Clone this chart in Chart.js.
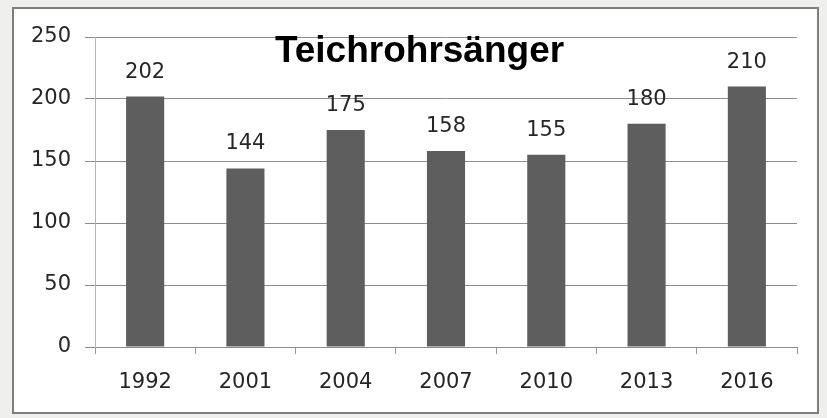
<!DOCTYPE html>
<html>
<head>
<meta charset="utf-8">
<script src="https://cdn.jsdelivr.net/npm/chart.js@4"></script>
<style>
    html, body { margin: 0; padding: 0; }
    body { width: 827px; height: 418px; background: #efefee; position: relative; overflow: hidden; }
    #box {
        position: absolute; left: 12px; top: 7px;
        width: 803px; height: 403px;
        border: 2px solid #7f7f7f; background: #fff;
    }
    #chart { display: block; }
</style>
</head>
<body>
<div id="box"><canvas id="chart" width="803" height="403"></canvas></div>
<script>
const chartTitle = 'Teichrohrsänger';
const years = ['1992', '2001', '2004', '2007', '2010', '2013', '2016'];
const counts = [202, 144, 175, 158, 155, 180, 210];
const yTicks = [0, 50, 100, 150, 200, 250];

const textColor = '#262626';
const font = { family: 'DejaVu Sans', size: 21 };

// values above the bars + title inside the plot area
const overlay = {
    id: 'overlay',
    afterDatasetsDraw(chart) {
        const ctx = chart.ctx;
        const meta = chart.getDatasetMeta(0);
        ctx.save();
        ctx.font = '21px "DejaVu Sans"';
        ctx.fillStyle = textColor;
        ctx.textAlign = 'center';
        ctx.textBaseline = 'alphabetic';
        meta.data.forEach((bar, i) => {
            ctx.fillText(String(counts[i]), bar.x, bar.y - 19);
        });
        ctx.restore();
    },
    afterDraw(chart) {
        const ctx = chart.ctx;
        ctx.save();
        ctx.font = 'bold 37px "Liberation Sans"';
        ctx.fillStyle = '#000';
        ctx.textAlign = 'center';
        ctx.textBaseline = 'alphabetic';
        ctx.fillText(chartTitle, chart.width / 2 + 4, chart.chartArea.top + 25);
        ctx.restore();
    }
};

new Chart(document.getElementById('chart').getContext('2d'), {
    type: 'bar',
    data: {
        labels: years,
        datasets: [{
            data: counts,
            backgroundColor: '#5e5e5e',
            borderWidth: 0,
            barPercentage: 0.38,
            categoryPercentage: 1
        }]
    },
    options: {
        responsive: false,
        animation: false,
        layout: { padding: { top: 28, right: 20, left: 0, bottom: 0 } },
        plugins: {
            legend: { display: false },
            tooltip: { enabled: false },
            title: { display: false }
        },
        scales: {
            x: {
                afterFit(scale) { scale.height = 65; },
                grid: {
                    drawOnChartArea: false,
                    drawTicks: true,
                    tickLength: 7,
                    color: '#999',
                    offset: true
                },
                border: { color: '#8c8c8c', width: 1 },
                ticks: { color: textColor, font: font, padding: 16, maxRotation: 0 }
            },
            y: {
                min: 0,
                max: 250,
                afterFit(scale) { scale.width = 81; },
                afterBuildTicks(scale) {
                    scale.ticks = yTicks.map(v => ({ value: v }));
                },
                grid: { color: '#8c8c8c', tickLength: 10, lineWidth: 1 },
                border: { color: '#b5b5b5', width: 1 },
                ticks: { color: textColor, font: font, padding: 14 }
            }
        }
    },
    plugins: [overlay]
});
</script>
</body>
</html>
